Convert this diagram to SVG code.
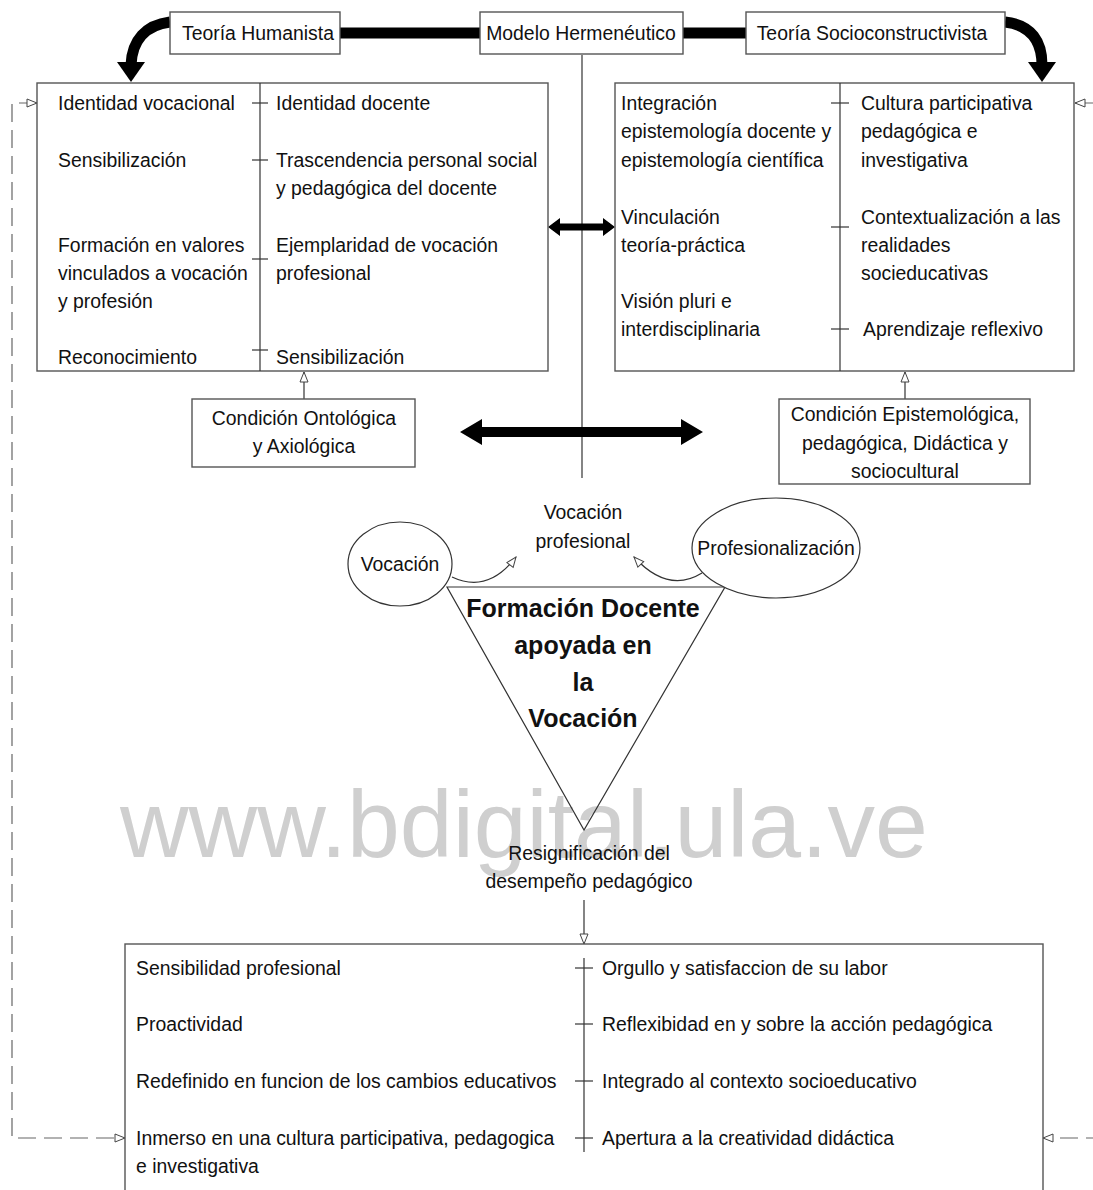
<svg xmlns="http://www.w3.org/2000/svg" width="1093" height="1190" viewBox="0 0 1093 1190">
  <style>
    text { font-family: "Liberation Sans", Arial, sans-serif; font-size: 19.4px; fill: #111; }
    .c { text-anchor: middle; }
    .big { font-size: 25px; font-weight: bold; }
    .mark { font-size: 95px; fill: #cfcfcf; }
    .box { fill: #fff; stroke: #555; stroke-width: 1.4; }
    .ln { fill: none; stroke: #333; stroke-width: 1.2; }
    .dash { fill: none; stroke: #666; stroke-width: 1.2; stroke-dasharray: 18 8; }
    .thick { fill: none; stroke: #000; stroke-width: 11; }
  </style>
  <defs>
    <marker id="open" viewBox="0 0 12 10" refX="11" refY="5" markerWidth="12" markerHeight="10" markerUnits="userSpaceOnUse" orient="auto-start-reverse">
      <path d="M1,1 L11,5 L1,9 Z" fill="#fff" stroke="#444" stroke-width="1"/>
    </marker>
  </defs>

  <rect width="1093" height="1190" fill="#fff"/>

  <!-- watermark -->
  <text class="mark" x="120" y="857">www.bdigital.ula.ve</text>

  <!-- connectors -->
  <g id="connectors">
    <!-- thick bars between the theory boxes -->
    <line class="thick" x1="340" y1="33" x2="480" y2="33"/>
    <line class="thick" x1="683" y1="33" x2="746" y2="33"/>
    <!-- curved arrows into the two upper boxes -->
    <path class="thick" d="M170,22 C146,25 132,40 131,65"/>
    <polygon points="117,62 145,62 131,82" fill="#000"/>
    <path class="thick" d="M1005,22 C1032,25 1042,42 1042,65"/>
    <polygon points="1028,62 1056,62 1042,82" fill="#000"/>
    <!-- central axis -->
    <line class="ln" x1="582" y1="55" x2="582" y2="478" stroke="#000"/>
    <!-- double arrows -->
    <polygon points="548,227 560,218 560,223.5 603,223.5 603,218 615,227 603,236 603,230.5 560,230.5 560,236" fill="#000"/>
    <polygon points="460,432 482,419 482,427 681,427 681,419 703,432 681,445 681,437 482,437 482,445" fill="#000"/>
    <!-- condition boxes to upper boxes -->
    <line class="ln" x1="304" y1="399" x2="304" y2="372" marker-end="url(#open)"/>
    <line class="ln" x1="905" y1="399" x2="905" y2="372" marker-end="url(#open)"/>
    <!-- result to lower box -->
    <line class="ln" x1="584" y1="900" x2="584" y2="944" marker-end="url(#open)"/>
    <!-- feedback loops -->
    <path class="dash" d="M37,103 H12 V1138 H125" marker-start="url(#open)" marker-end="url(#open)"/>
    <path class="dash" d="M1075,103 H1105 V1138 H1043" marker-start="url(#open)" marker-end="url(#open)"/>
    <!-- vocation / professionalization arrows -->
    <path class="ln" d="M452,577 Q488,594 516,557" marker-end="url(#open)"/>
    <path class="ln" d="M702,573 Q668,594 634,557" marker-end="url(#open)"/>
  </g>

  <!-- top row -->
  <g id="teoria-humanista">
    <rect class="box" x="170" y="12" width="170" height="42"/>
    <text class="c" x="258" y="40">Teoría Humanista</text>
  </g>
  <g id="modelo-hermeneutico">
    <rect class="box" x="480" y="12" width="203" height="42"/>
    <text class="c" x="581" y="40">Modelo Hermenéutico</text>
  </g>
  <g id="teoria-socioconstructivista">
    <rect class="box" x="746" y="12" width="259" height="42"/>
    <text class="c" x="872" y="40">Teoría Socioconstructivista</text>
  </g>

  <!-- left upper box -->
  <g id="dimension-humanista">
    <rect class="box" x="37" y="83" width="511" height="288"/>
    <line class="ln" x1="260" y1="83" x2="260" y2="371"/>
    <g class="ln">
      <line x1="252" y1="103" x2="268" y2="103"/>
      <line x1="252" y1="160" x2="268" y2="160"/>
      <line x1="252" y1="259" x2="268" y2="259"/>
      <line x1="252" y1="350" x2="268" y2="350"/>
    </g>
    <text x="58" y="110">Identidad vocacional</text>
    <text x="58" y="167">Sensibilización</text>
    <text x="58" y="252">Formación en valores</text>
    <text x="58" y="280">vinculados a vocación</text>
    <text x="58" y="308">y profesión</text>
    <text x="58" y="364">Reconocimiento</text>
    <text x="276" y="110">Identidad docente</text>
    <text x="276" y="167">Trascendencia personal social</text>
    <text x="276" y="195">y pedagógica del docente</text>
    <text x="276" y="252">Ejemplaridad de vocación</text>
    <text x="276" y="280">profesional</text>
    <text x="276" y="364">Sensibilización</text>
  </g>

  <!-- right upper box -->
  <g id="dimension-socioconstructivista">
    <rect class="box" x="615" y="83" width="459" height="288"/>
    <line class="ln" x1="840" y1="83" x2="840" y2="371"/>
    <g class="ln">
      <line x1="831" y1="103" x2="849" y2="103"/>
      <line x1="831" y1="227" x2="849" y2="227"/>
      <line x1="831" y1="329" x2="849" y2="329"/>
    </g>
    <text x="621" y="110">Integración</text>
    <text x="621" y="138">epistemología docente y</text>
    <text x="621" y="167">epistemología científica</text>
    <text x="621" y="224">Vinculación</text>
    <text x="621" y="252">teoría-práctica</text>
    <text x="621" y="308">Visión pluri e</text>
    <text x="621" y="336">interdisciplinaria</text>
    <text x="861" y="110">Cultura participativa</text>
    <text x="861" y="138">pedagógica e</text>
    <text x="861" y="167">investigativa</text>
    <text x="861" y="224">Contextualización a las</text>
    <text x="861" y="252">realidades</text>
    <text x="861" y="280">socieducativas</text>
    <text x="863" y="336">Aprendizaje reflexivo</text>
  </g>

  <g id="condicion-ontologica">
    <rect class="box" x="192" y="399" width="223" height="68"/>
    <text class="c" x="304" y="425">Condición Ontológica</text>
    <text class="c" x="304" y="453">y Axiológica</text>
  </g>
  <g id="condicion-epistemologica">
    <rect class="box" x="779" y="399" width="251" height="85"/>
    <text class="c" x="905" y="421">Condición Epistemológica,</text>
    <text class="c" x="905" y="450">pedagógica, Didáctica y</text>
    <text class="c" x="905" y="478">sociocultural</text>
  </g>

  <!-- central triangle -->
  <g id="formacion-docente">
    <polygon points="447,587 725,587 584,830" fill="none" stroke="#333" stroke-width="1.2"/>
    <text class="c big" x="583" y="617">Formación Docente</text>
    <text class="c big" x="583" y="654">apoyada en</text>
    <text class="c big" x="583" y="691">la</text>
    <text class="c big" x="583" y="727">Vocación</text>
  </g>
  <g id="vocacion-profesional">
    <text class="c" x="583" y="519">Vocación</text>
    <text class="c" x="583" y="548">profesional</text>
  </g>
  <g id="vocacion">
    <ellipse cx="400" cy="564" rx="52" ry="42" fill="#fff" stroke="#333" stroke-width="1.2"/>
    <text class="c" x="400" y="571">Vocación</text>
  </g>
  <g id="profesionalizacion">
    <ellipse cx="776" cy="548" rx="84" ry="50" fill="#fff" stroke="#333" stroke-width="1.2"/>
    <text class="c" x="776" y="555">Profesionalización</text>
  </g>
  <g id="resignificacion">
    <text class="c" x="589" y="860">Resignificación del</text>
    <text class="c" x="589" y="888">desempeño pedagógico</text>
  </g>

  <!-- lower box -->
  <g id="perfil-docente">
    <rect class="box" x="125" y="944" width="918" height="260"/>
    <line class="ln" x1="584" y1="958" x2="584" y2="1152"/>
    <g class="ln">
      <line x1="575" y1="968" x2="593" y2="968"/>
      <line x1="575" y1="1024" x2="593" y2="1024"/>
      <line x1="575" y1="1081" x2="593" y2="1081"/>
      <line x1="575" y1="1138" x2="593" y2="1138"/>
    </g>
    <text x="136" y="975">Sensibilidad profesional</text>
    <text x="136" y="1031">Proactividad</text>
    <text x="136" y="1088">Redefinido en funcion de los cambios educativos</text>
    <text x="136" y="1145">Inmerso en una cultura participativa, pedagogica</text>
    <text x="136" y="1173">e investigativa</text>
    <text x="602" y="975">Orgullo y satisfaccion de su labor</text>
    <text x="602" y="1031">Reflexibidad en y sobre la acción pedagógica</text>
    <text x="602" y="1088">Integrado al contexto socioeducativo</text>
    <text x="602" y="1145">Apertura a la creatividad didáctica</text>
  </g>
</svg>
